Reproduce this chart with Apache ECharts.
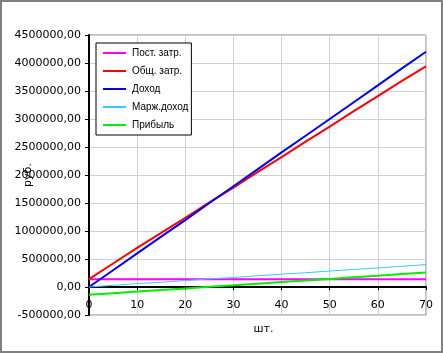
<!DOCTYPE html>
<html>
<head>
<meta charset="utf-8">
<script src="https://cdn.jsdelivr.net/npm/echarts@6/dist/echarts.min.js"></script>
<style>
  html, body { margin: 0; padding: 0; background: #fff; }
  #chart { width: 443px; height: 353px; }
</style>
</head>
<body>
<div id="chart"></div>
<script>
// количество, шт.
const units = [0, 5, 10, 15, 20, 25, 30, 35, 40, 45, 50, 55, 60, 65, 70];
// руб.
const fixedCost = [140000, 140000, 140000, 140000, 140000, 140000, 140000, 140000, 140000, 140000, 140000, 140000, 140000, 140000, 140000];
const totalCost = [140000, 420000, 700000, 965000, 1235000, 1510000, 1775000, 2050000, 2320000, 2595000, 2865000, 3140000, 3410000, 3680000, 3940000];
const revenue = [0, 300000, 600000, 900000, 1195000, 1500000, 1800000, 2100000, 2405000, 2700000, 3000000, 3300000, 3600000, 3905000, 4200000];
const margin = [0, 30000, 60000, 85000, 115000, 145000, 170000, 200000, 230000, 255000, 285000, 315000, 340000, 370000, 400000];
const profit = [-140000, -110000, -80000, -55000, -25000, 5000, 30000, 60000, 90000, 115000, 145000, 175000, 200000, 230000, 260000];

const names = ['Пост. затр.', 'Общ. затр.', 'Доход', 'Марж.доход', 'Прибыль'];
const colors = ['#ff00ff', '#ff0000', '#0000ff', '#33ccff', '#00ee00'];
const widths = [2, 2, 2, 1, 2];
const values = [fixedCost, totalCost, revenue, margin, profit];

const font = 'DejaVu Sans, Verdana, sans-serif';
const legendFont = 'Liberation Sans, Arial, sans-serif';
// линия в легенде без маркера (крошечные точки по углам задают рамку 25x10)
const lineIcon = 'path://M0,0H0.01V0.01H0Z M1,4H24V6H1Z M24.99,9.99H25V10H24.99Z';
const chart = echarts.init(document.getElementById('chart'));

chart.setOption({
  animation: false,
  textStyle: { fontFamily: font },
  color: colors,
  grid: {
    left: 89, right: 17, top: 35, bottom: 38,
    outerBoundsMode: 'none', containLabel: false,
    show: true, borderColor: '#808080', borderWidth: 1
  },
  legend: {
    orient: 'vertical', left: 96, top: 43,
    itemWidth: 25, itemHeight: 10, itemGap: 8,
    icon: lineIcon,
    padding: [5, 3, 5, 6],
    borderColor: '#000', borderWidth: 1, backgroundColor: '#fff',
    textStyle: { fontSize: 10, color: '#000', fontFamily: legendFont },
    data: names
  },
  xAxis: {
    type: 'value', min: 0, max: 70, interval: 10,
    offset: -28,
    name: 'шт.', nameLocation: 'middle', nameGap: 37, nameMoveOverlap: false,
    nameTextStyle: { fontSize: 11, color: '#000', fontFamily: font, padding: [0, 0, 0, 12] },
    axisLine: { onZero: false, lineStyle: { color: '#000', width: 2 } },
    axisTick: { show: true, length: 3, lineStyle: { color: '#000' } },
    axisLabel: { fontSize: 11, color: '#000', margin: 13, fontFamily: font },
    splitLine: { lineStyle: { color: '#d0d0d0', width: 1 } }
  },
  yAxis: {
    type: 'value', min: -500000, max: 4500000, interval: 500000,
    name: 'руб.', nameLocation: 'middle', nameGap: 55, nameRotate: 90, nameMoveOverlap: false,
    nameTextStyle: { fontSize: 11, color: '#000', fontFamily: font },
    axisLine: { show: true, lineStyle: { color: '#000', width: 2 } },
    axisTick: { show: true, length: 4, lineStyle: { color: '#000' } },
    axisLabel: {
      fontSize: 11, color: '#000', margin: 8, fontFamily: font,
      formatter: v => v.toFixed(2).replace('.', ',')
    },
    splitLine: { lineStyle: { color: '#d0d0d0', width: 1 } }
  },
  graphic: [{
    type: 'rect', silent: true, z: 100,
    shape: { x: 1, y: 1, width: 441, height: 351 },
    style: { fill: 'none', stroke: '#808080', lineWidth: 2 }
  }],
  series: names.map((name, i) => ({
    name: name,
    type: 'line',
    symbol: 'none',
    lineStyle: { width: widths[i], color: colors[i] },
    data: units.map((u, k) => [u, values[i][k]])
  }))
});
</script>
</body>
</html>
